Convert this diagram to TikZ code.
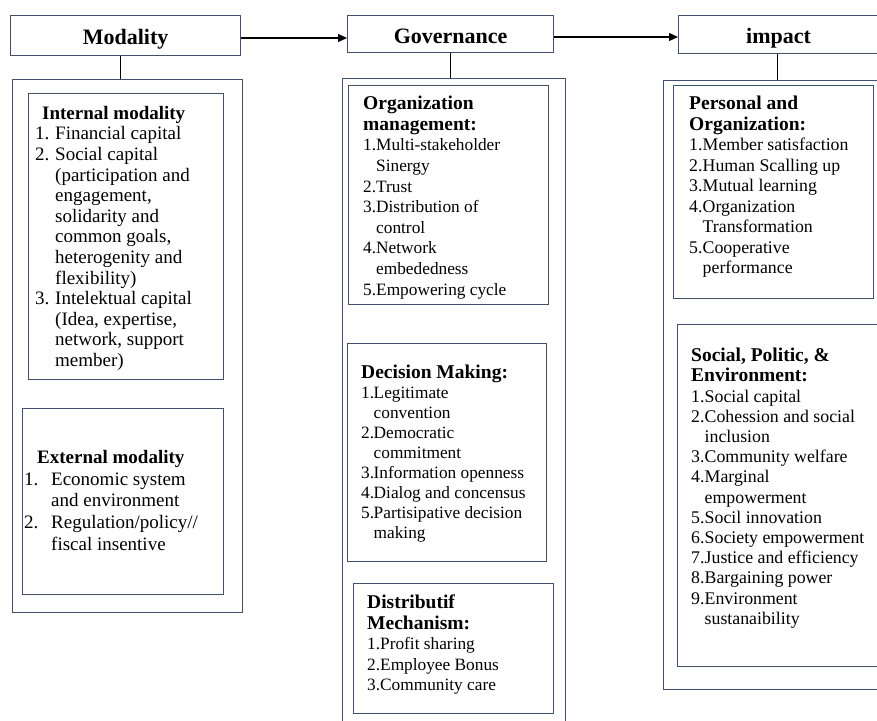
\documentclass[tikz,border=0pt]{standalone}
\usepackage{fontspec}
\setmainfont{Liberation Serif}
\usetikzlibrary{arrows.meta}
\definecolor{boxc}{RGB}{66,80,108}
\newcommand\lab[2]{\makebox[#1][l]{#2}}
\newcommand\ttl[1]{{\fontsize{19.5}{20}\selectfont\bfseries #1}}
\tikzset{
  hdr/.style={draw=boxc, line width=1.2pt, anchor=north west, inner sep=0pt,
    font=\fontsize{22}{24}\selectfont\bfseries, text height=22pt, text depth=4pt},
  outbox/.style={draw=boxc, line width=1.2pt, anchor=north west, inner sep=0pt},
  inbox/.style={draw=boxc, line width=1.2pt, anchor=north west, inner sep=0pt},
  txt/.style={inner sep=0pt, anchor=north west, align=left},
  conn/.style={draw=black, line width=0.9pt},
  arr/.style={draw=black, line width=1.2pt, -{Triangle[length=9pt,width=8pt]}}
}
\begin{document}
\begin{tikzpicture}[x=1pt,y=-1pt]
\useasboundingbox (0,0) rectangle (877,720);
\clip (0,0) rectangle (877,720);
% headers
\node[hdr, minimum width=230pt, minimum height=40pt] (mod) at (10,15) {Modality};
\node[hdr, minimum width=206pt, minimum height=37pt] (gov) at (347,15) {Governance};
\node[hdr, minimum width=200pt, minimum height=38pt] (imp) at (678,15) {impact};
% outer boxes
\node[outbox, minimum width=230pt, minimum height=533pt] (modout) at (12,79) {};
\node[outbox, minimum width=223pt, minimum height=660pt] (govout) at (342,78) {};
\node[outbox, minimum width=230pt, minimum height=609pt] (impout) at (663,80) {};
% connectors
\coordinate (a1) at (0,38);
\coordinate (a2) at (0,37);
\coordinate (v1) at (120,0);
\coordinate (v2) at (450,0);
\coordinate (v3) at (777,0);
\draw[arr] (mod.east |- a1) -- (gov.west |- a1);
\draw[arr] (gov.east |- a2) -- (imp.west |- a2);
\draw[conn] (mod.south -| v1) -- (modout.north -| v1);
\draw[conn] (gov.south -| v2) -- (govout.north -| v2);
\draw[conn] (imp.south -| v3) -- (impout.north -| v3);
% inner boxes
\node[inbox, minimum width=195pt, minimum height=286pt] (intb) at (28,93) {};
\node[inbox, minimum width=201pt, minimum height=186pt] (extb) at (22,408) {};
\node[inbox, minimum width=200pt, minimum height=219pt] (orgb) at (348,85) {};
\node[inbox, minimum width=199pt, minimum height=218pt] (decb) at (347,343) {};
\node[inbox, minimum width=200pt, minimum height=130pt] (disb) at (353,583) {};
\node[inbox, minimum width=200pt, minimum height=213pt] (perb) at (673,85) {};
\node[inbox, minimum width=210pt, minimum height=342pt] (socb) at (677,324) {};
% texts
\node[txt, font=\fontsize{19}{20.6}\selectfont] (intT) at (35,106) {%
\hspace*{7pt}\textbf{Internal modality}\\
\lab{20pt}{1.}Financial capital\\
\lab{20pt}{2.}Social capital\\
\hspace*{20pt}(participation and\\
\hspace*{20pt}engagement,\\
\hspace*{20pt}solidarity and\\
\hspace*{20pt}common goals,\\
\hspace*{20pt}heterogenity and\\
\hspace*{20pt}flexibility)\\
\lab{20pt}{3.}Intelektual capital\\
\hspace*{20pt}(Idea, expertise,\\
\hspace*{20pt}network, support\\
\hspace*{20pt}member)};
\node[txt, font=\fontsize{19}{21.7}\selectfont] (extT) at (24,450) {%
\hspace*{13pt}\textbf{External modality}\\
\lab{27pt}{1.}Economic system\\
\hspace*{27pt}and environment\\
\lab{27pt}{2.}Regulation/policy//\\
\hspace*{27pt}fiscal insentive};
\node[txt, font=\fontsize{17.3}{20.6}\selectfont] (orgT) at (363,96) {%
\ttl{Organization}\\
\ttl{management:}\\
\lab{13pt}{1.}Multi-stakeholder\\
\hspace*{13pt}Sinergy\\
\lab{13pt}{2.}Trust\\
\lab{13pt}{3.}Distribution of\\
\hspace*{13pt}control\\
\lab{13pt}{4.}Network\\
\hspace*{13pt}embededness\\
\lab{13pt}{5.}Empowering cycle};
\node[txt, font=\fontsize{17.3}{20}\selectfont] (decT) at (361,365) {%
\ttl{Decision Making:}\\
\lab{12.5pt}{1.}Legitimate\\
\hspace*{12.5pt}convention\\
\lab{12.5pt}{2.}Democratic\\
\hspace*{12.5pt}commitment\\
\lab{12.5pt}{3.}Information openness\\
\lab{12.5pt}{4.}Dialog and concensus\\
\lab{12.5pt}{5.}Partisipative decision\\
\hspace*{12.5pt}making};
\node[txt, font=\fontsize{17.3}{20.5}\selectfont] (disT) at (367,595) {%
\ttl{Distributif}\\
\ttl{Mechanism:}\\
\lab{13pt}{1.}Profit sharing\\
\lab{13pt}{2.}Employee Bonus\\
\lab{13pt}{3.}Community care};
\node[txt, font=\fontsize{17.8}{20.5}\selectfont] (perT) at (689,96) {%
\ttl{Personal and}\\
\ttl{Organization:}\\
\lab{13.5pt}{1.}Member satisfaction\\
\lab{13.5pt}{2.}Human Scalling up\\
\lab{13.5pt}{3.}Mutual learning\\
\lab{13.5pt}{4.}Organization\\
\hspace*{13.5pt}Transformation\\
\lab{13.5pt}{5.}Cooperative\\
\hspace*{13.5pt}performance};
\node[txt, font=\fontsize{17.8}{20.2}\selectfont] (socT) at (691,348) {%
\ttl{Social, Politic, \&}\\
\ttl{Environment:}\\
\lab{13.5pt}{1.}Social capital\\
\lab{13.5pt}{2.}Cohession and social\\
\hspace*{13.5pt}inclusion\\
\lab{13.5pt}{3.}Community welfare\\
\lab{13.5pt}{4.}Marginal\\
\hspace*{13.5pt}empowerment\\
\lab{13.5pt}{5.}Socil innovation\\
\lab{13.5pt}{6.}Society empowerment\\
\lab{13.5pt}{7.}Justice and efficiency\\
\lab{13.5pt}{8.}Bargaining power\\
\lab{13.5pt}{9.}Environment\\
\hspace*{13.5pt}sustanaibility};
\end{tikzpicture}
\end{document}
